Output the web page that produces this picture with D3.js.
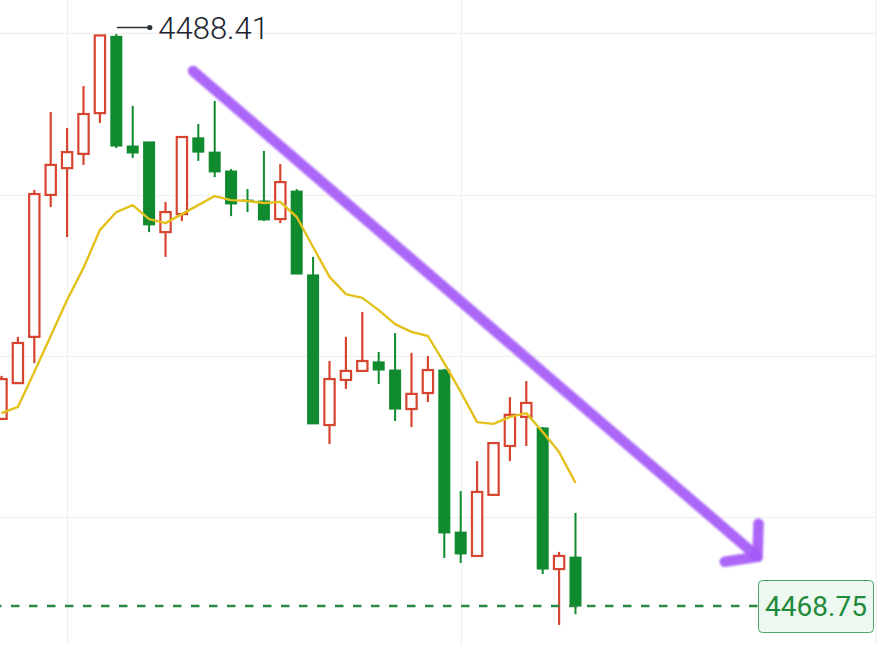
<!DOCTYPE html>
<html>
<head>
<meta charset="utf-8">
<script src="https://cdn.jsdelivr.net/npm/d3@7"></script>
<style>
  html, body { margin: 0; padding: 0; background: #ffffff; }
  svg { display: block; }
</style>
</head>
<body>
<svg id="chart" width="893" height="645"></svg>
<script>
// ---------------- DATA ----------------
const openVals  = [4475.18, 4476.41, 4478.00, 4482.88, 4483.80, 4484.29, 4485.69, 4488.33, 4484.56, 4484.70, 4481.60, 4482.22, 4484.84, 4484.35, 4483.70, 4482.70, 4482.67, 4482.05, 4483.01, 4480.13, 4474.97, 4476.52, 4476.83, 4477.14, 4476.86, 4475.52, 4476.07, 4476.86, 4471.29, 4470.47, 4472.57, 4474.25, 4475.25, 4474.87, 4470.02, 4470.43];
const closeVals = [4476.55, 4477.79, 4482.91, 4483.91, 4484.35, 4485.66, 4488.36, 4484.56, 4484.32, 4481.85, 4482.29, 4484.87, 4484.35, 4483.67, 4482.57, 4482.67, 4482.02, 4483.32, 4480.16, 4475.01, 4476.55, 4476.83, 4477.17, 4476.86, 4475.52, 4476.04, 4476.86, 4471.26, 4470.54, 4472.67, 4474.35, 4475.32, 4475.73, 4470.02, 4470.47, 4468.75];
const highVals  = [4476.66, 4478.00, 4483.05, 4485.73, 4485.18, 4486.62, 4488.36, 4488.41, 4485.94, 4484.70, 4482.64, 4484.87, 4485.32, 4486.11, 4483.77, 4483.08, 4484.39, 4483.94, 4483.08, 4480.75, 4477.17, 4478.00, 4478.86, 4477.48, 4478.13, 4477.45, 4477.34, 4476.90, 4472.70, 4473.73, 4474.39, 4475.93, 4476.48, 4474.90, 4470.61, 4471.95];
const lowVals   = [4475.14, 4476.41, 4477.10, 4482.46, 4481.43, 4483.91, 4485.35, 4484.49, 4484.15, 4481.60, 4480.75, 4481.98, 4484.05, 4483.49, 4482.15, 4482.29, 4481.98, 4481.91, 4480.16, 4475.01, 4474.32, 4476.21, 4476.79, 4476.38, 4475.11, 4474.90, 4475.76, 4470.40, 4470.23, 4470.47, 4472.57, 4473.73, 4474.25, 4469.85, 4468.10, 4468.47];
const maVals    = [4475.38, 4475.59, 4476.79, 4478.03, 4479.27, 4480.37, 4481.67, 4482.29, 4482.53, 4482.05, 4481.91, 4482.22, 4482.53, 4482.84, 4482.70, 4482.67, 4482.60, 4482.64, 4482.12, 4481.09, 4480.06, 4479.47, 4479.34, 4478.92, 4478.44, 4478.17, 4478.03, 4477.10, 4476.11, 4475.07, 4475.01, 4475.25, 4475.38, 4474.73, 4474.04, 4472.98];
const gridPrices = [4488.44, 4482.89, 4477.34, 4471.81];
const gridIndices = [4, 28];
const highLabel = "4488.41";
const lastLabel = "4468.75";
// trend arrow annotation in data units (candle index, price)
const arrowStart = { i: 11.68, p: 4487.14 };
const arrowEnd   = { i: 46.10, p: 4470.44 };
const arrowHeadUp   = { i: 46.16, p: 4471.58 };
const arrowHeadLeft = { i: 44.10, p: 4470.27 };

// ---------------- SCALES ----------------
const W = 893, H = 645;
const n = openVals.length;
const x = d3.scaleLinear().domain([0, n - 1]).range([1.5, 575.5]);
const y = d3.scaleLinear().domain([4468.75, 4488.41]).range([606, 34]);

const RED = "#d6452f", GREEN = "#0f8a2e", YELLOW = "#e3c01c", GRID = "#f1f1f1";

const svg = d3.select("#chart");
const data = openVals.map((o, i) => ({ i, o, c: closeVals[i], h: highVals[i], l: lowVals[i] }));

// ---------------- GRID ----------------
const plotRight = 875.5;
svg.append("g").selectAll("line").data(gridPrices).join("line")
  .attr("x1", 0).attr("x2", plotRight)
  .attr("y1", d => Math.round(y(d)) + 0.5).attr("y2", d => Math.round(y(d)) + 0.5)
  .attr("stroke", GRID).attr("stroke-width", 1.5);
svg.append("g").selectAll("line").data(gridIndices).join("line")
  .attr("x1", d => Math.round(x(d)) + 0.5).attr("x2", d => Math.round(x(d)) + 0.5)
  .attr("y1", 0).attr("y2", H)
  .attr("stroke", GRID).attr("stroke-width", 1.5);
svg.append("line")
  .attr("x1", plotRight + 0.5).attr("x2", plotRight + 0.5).attr("y1", 0).attr("y2", H)
  .attr("stroke", "#ececec").attr("stroke-width", 1);

// ---------------- CANDLES ----------------
const bodyW = 12.5;
const g = svg.append("g");
data.forEach(d => {
  const cx = x(d.i);
  const up = d.c >= d.o;
  const top = y(Math.max(d.o, d.c)), bot = y(Math.min(d.o, d.c));
  if (up) {
    g.append("line").attr("x1", cx).attr("x2", cx).attr("y1", y(d.h)).attr("y2", top)
      .attr("stroke", RED).attr("stroke-width", 2.2);
    g.append("line").attr("x1", cx).attr("x2", cx).attr("y1", bot).attr("y2", y(d.l))
      .attr("stroke", RED).attr("stroke-width", 2.2);
    g.append("rect").attr("x", cx - bodyW / 2 + 1.1).attr("y", top)
      .attr("width", bodyW - 2.2).attr("height", Math.max(bot - top, 1))
      .attr("fill", "#ffffff").attr("stroke", RED).attr("stroke-width", 2.2);
  } else {
    g.append("line").attr("x1", cx).attr("x2", cx).attr("y1", y(d.h)).attr("y2", y(d.l))
      .attr("stroke", GREEN).attr("stroke-width", 2);
    g.append("rect").attr("x", cx - 6).attr("y", top - 0.5)
      .attr("width", 12).attr("height", Math.max(bot - top, 1) + 1)
      .attr("fill", GREEN);
  }
});

// ---------------- MA LINE ----------------
svg.append("path").datum(maVals)
  .attr("d", d3.line().x((d, i) => x(i)).y(d => y(d)))
  .attr("fill", "none").attr("stroke", YELLOW).attr("stroke-width", 2.4)
  .attr("stroke-linejoin", "round");

// ---------------- LAST PRICE LINE + LABEL ----------------
const lastY = y(closeVals[n - 1]);
const boxX = 758, boxW = 115, boxH = 52;
svg.append("line")
  .attr("x1", 0).attr("x2", boxX).attr("y1", lastY).attr("y2", lastY)
  .attr("stroke", "#2a8a44").attr("stroke-width", 2.5)
  .attr("stroke-dasharray", "8.5,9.5").attr("stroke-dashoffset", 7);
svg.append("rect")
  .attr("x", boxX + 0.5).attr("y", lastY - boxH / 2 + 0.5)
  .attr("width", boxW).attr("height", boxH).attr("rx", 4)
  .attr("fill", "#edf8f0").attr("stroke", "#4aa863").attr("stroke-width", 1);
svg.append("text")
  .attr("x", boxX + boxW / 2 + 0.5).attr("y", lastY + 10)
  .attr("text-anchor", "middle")
  .attr("font-family", "Roboto, 'Noto Sans', sans-serif").attr("font-size", 28)
  .attr("fill", "#1f8a3a").text(lastLabel);

// ---------------- HIGH MARKER ----------------
const hiIdx = highVals.indexOf(d3.max(highVals));
const hx = x(hiIdx) + 0.5, hy = y(highVals[hiIdx]) - 6.5;
svg.append("line").attr("x1", hx).attr("x2", hx + 32).attr("y1", hy).attr("y2", hy)
  .attr("stroke", "#2a2f36").attr("stroke-width", 1.3);
svg.append("circle").attr("cx", hx + 33).attr("cy", hy).attr("r", 2.6).attr("fill", "#2a2f36");
svg.append("text")
  .attr("x", hx + 41.5).attr("y", hy + 11.5)
  .attr("font-family", "Roboto, 'Noto Sans', sans-serif").attr("font-size", 31)
  .attr("font-weight", 300)
  .attr("fill", "#1d2430").text(highLabel);

// ---------------- TREND ARROW ----------------
const defs = svg.append("defs");
defs.append("filter").attr("id", "soft").attr("x", "-10%").attr("y", "-10%").attr("width", "120%").attr("height", "120%")
  .append("feGaussianBlur").attr("stdDeviation", 1.1);
const ag = svg.append("g").attr("filter", "url(#soft)")
  .attr("stroke", "#a459f6").attr("stroke-opacity", 0.92)
  .attr("stroke-width", 10.5).attr("stroke-linecap", "round").attr("fill", "none");
ag.append("line")
  .attr("x1", x(arrowStart.i)).attr("y1", y(arrowStart.p))
  .attr("x2", x(arrowEnd.i)).attr("y2", y(arrowEnd.p));
ag.append("path")
  .attr("d", d3.line()([[x(arrowHeadUp.i), y(arrowHeadUp.p)], [x(arrowEnd.i), y(arrowEnd.p)], [x(arrowHeadLeft.i), y(arrowHeadLeft.p)]]))
  .attr("stroke-linejoin", "round");
</script>
</body>
</html>
